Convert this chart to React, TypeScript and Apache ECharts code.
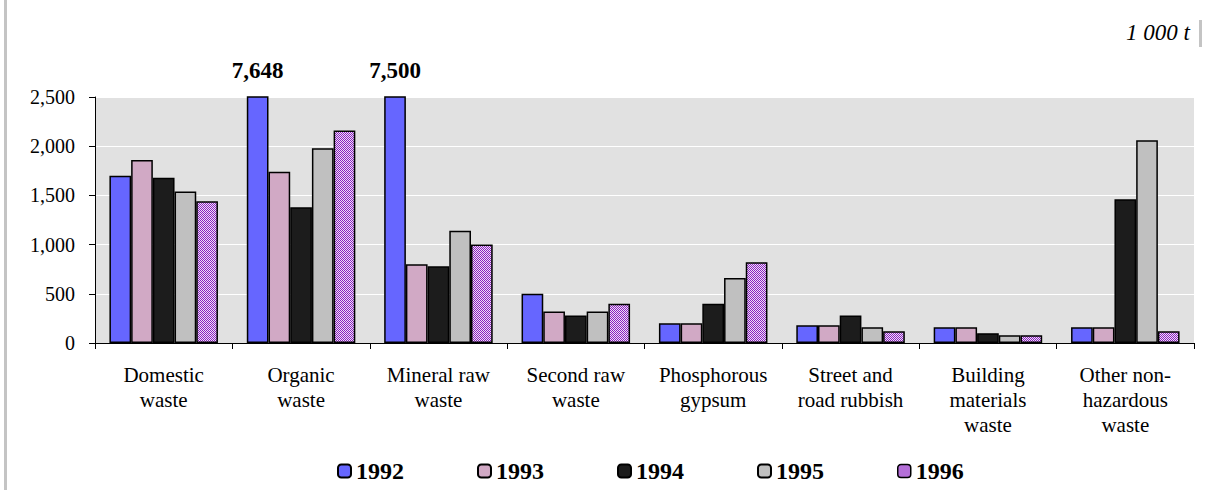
import React, { useEffect, useRef } from "react";
import * as echarts from "echarts";

const categories = [
  "Domestic\nwaste",
  "Organic\nwaste",
  "Mineral raw\nwaste",
  "Second raw\nwaste",
  "Phosphorous\ngypsum",
  "Street and\nroad rubbish",
  "Building\nmaterials\nwaste",
  "Other non-\nhazardous\nwaste",
];
const years = ["1992", "1993", "1994", "1995", "1996"];
const v1992 = [1700, 7648, 7500, 500, 200, 180, 160, 160];
const v1993 = [1860, 1740, 800, 320, 200, 180, 160, 160];
const v1994 = [1680, 1380, 780, 280, 400, 280, 100, 1460];
const v1995 = [1540, 1980, 1140, 320, 660, 160, 80, 2060];
const v1996 = [1440, 2160, 1000, 400, 820, 120, 80, 120];
const yTicks = [0, 500, 1000, 1500, 2000, 2500];
const unitLabel = "1 000 t";

const SERIF = "'Liberation Serif', 'Times New Roman', serif";

function makePattern() {
  const c = document.createElement("canvas");
  c.width = 2;
  c.height = 2;
  const ctx = c.getContext("2d")!;
  ctx.fillStyle = "#efe2f5";
  ctx.fillRect(0, 0, 2, 2);
  ctx.fillStyle = "#8a1fc2";
  ctx.fillRect(0, 0, 1, 1);
  ctx.fillRect(1, 1, 1, 1);
  return c;
}

export default function App() {
  const ref = useRef<HTMLDivElement>(null);
  useEffect(() => {
    if (!ref.current) return;
    const chart = echarts.init(ref.current, null, { renderer: "svg" });
    const yMax = yTicks[yTicks.length - 1];
    const colors: any[] = ["#6666ff", "#d1a9c5", "#1c1c1c", "#c0c0c0", { image: makePattern(), repeat: "repeat" }];
    const values = [v1992, v1993, v1994, v1995, v1996];
    const series = years.map((y, i) => ({
      name: y,
      type: "bar",
      data: values[i],
      barGap: "0%",
      barCategoryGap: "21%",
      clip: true,
      itemStyle: { color: colors[i], borderColor: "#000", borderWidth: 1.5 },
      label: {
        show: true,
        position: "top",
        distance: 14,
        fontFamily: SERIF,
        fontSize: 23,
        fontWeight: "bold",
        color: "#000",
        formatter: (p: any) => (p.value > yMax ? Number(p.value).toLocaleString("en-US") : ""),
      },
    }));
    const legendData = years.map((y, i) =>
      i === 4 ? { name: y, itemStyle: { color: "#b46fd8", borderColor: "#000", borderWidth: 1.5 } } : { name: y }
    );
    chart.setOption({
      animation: false,
      backgroundColor: "#fff",
      textStyle: { fontFamily: SERIF },
      grid: {
        left: 95,
        right: 12,
        top: 97,
        bottom: 147,
        show: true,
        backgroundColor: "#e1e1e1",
        borderWidth: 0,
      },
      legend: {
        data: legendData,
        left: 332,
        top: 454,
        itemWidth: 13,
        itemHeight: 13,
        itemGap: 73,
        textStyle: { fontFamily: SERIF, fontSize: 24, fontWeight: "bold", color: "#000", padding: [0, 0, 0, 0] },
      },
      xAxis: {
        type: "category",
        data: categories,
        axisLine: { lineStyle: { color: "#000", width: 1 } },
        axisTick: { show: true, length: 6, lineStyle: { color: "#000" } },
        axisLabel: {
          color: "#000",
          fontFamily: SERIF,
          fontSize: 21,
          lineHeight: 25,
          margin: 19,
          interval: 0,
        },
      },
      yAxis: {
        type: "value",
        min: 0,
        max: yMax,
        interval: 500,
        axisLine: { show: true, lineStyle: { color: "#000", width: 1 } },
        axisTick: { show: true, length: 6, lineStyle: { color: "#000" } },
        splitLine: { show: true, lineStyle: { color: "#ffffff", width: 1 } },
        axisLabel: {
          color: "#000",
          fontFamily: SERIF,
          fontSize: 20,
          margin: 20,
          formatter: (v: number) => v.toLocaleString("en-US"),
        },
      },
      graphic: [
        { type: "rect", shape: { x: 4, y: 0, width: 3, height: 490 }, style: { fill: "#c4c4c4" } },
        { type: "rect", shape: { x: 1199, y: 20, width: 3, height: 27 }, style: { fill: "#c4c4c4" } },
        {
          type: "text",
          right: 16,
          top: 21,
          style: { text: unitLabel, font: `italic 23px ${SERIF}`, fill: "#000" },
        },
      ],
      series,
    });
    return () => chart.dispose();
  }, []);
  return (
    <div
      ref={ref}
      style={{ position: "absolute", left: 0, top: 0, width: 1206, height: 490 }}
    />
  );
}
